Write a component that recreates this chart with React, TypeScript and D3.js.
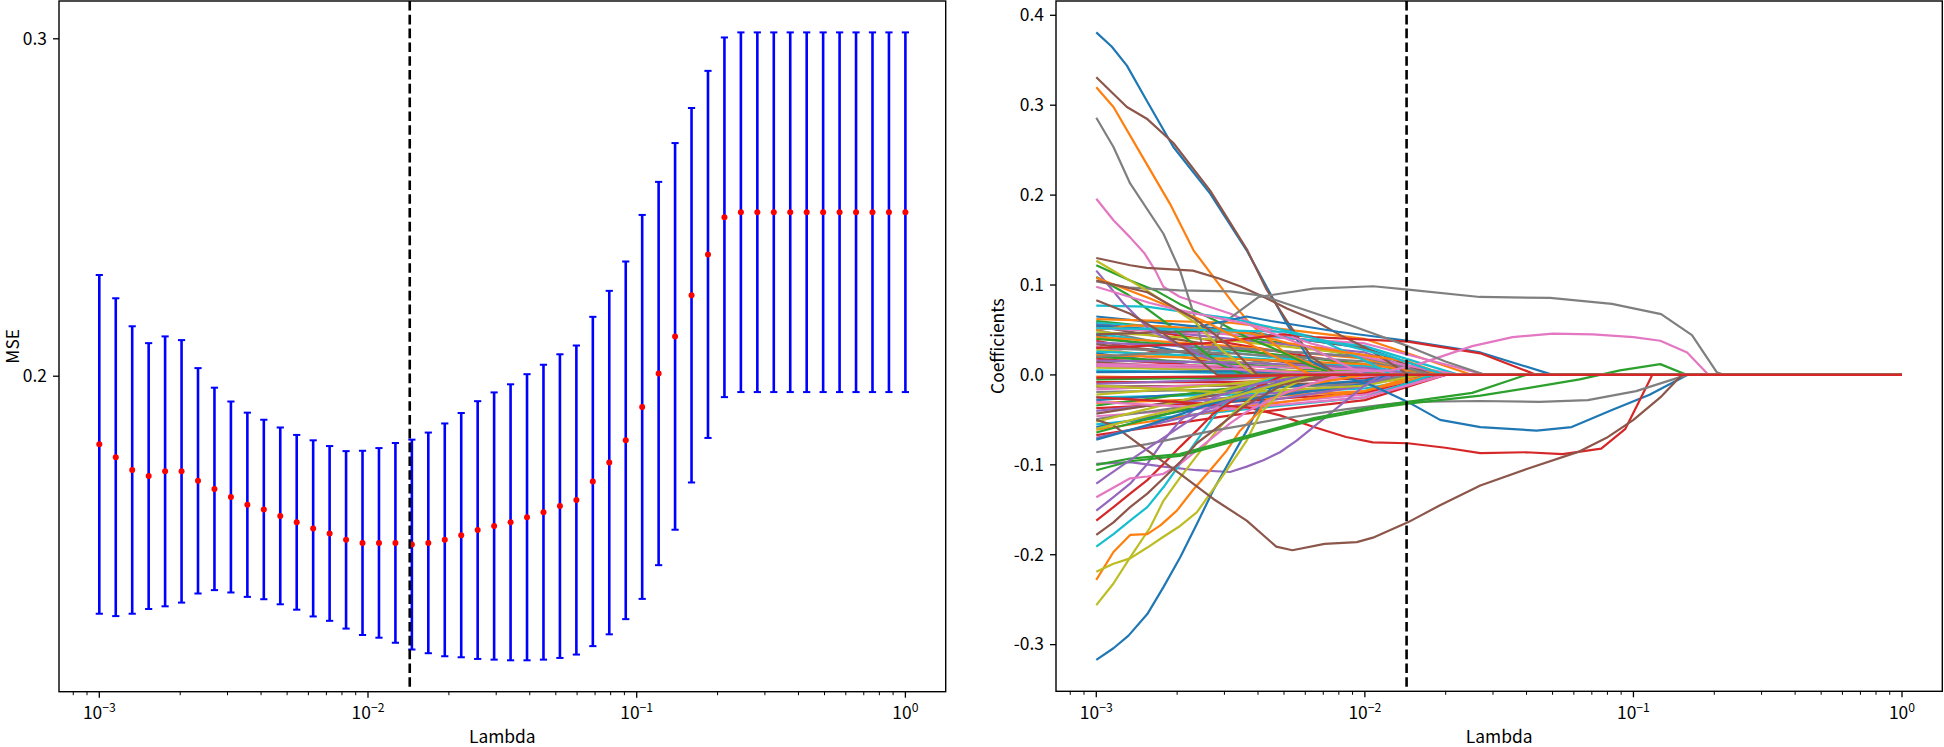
import React from "react";
import * as d3 from "d3";

const W = 1944;
const H = 747;
const FONT = "'Noto Sans CJK SC', 'Open Sans', sans-serif";

// ---------- data ----------
const lambdaExponents = d3.range(50).map((i) => -3 + (3 * i) / 49);
const lambdas = lambdaExponents.map((e) => 10 ** e);

const mseMean = [
  0.1798, 0.176, 0.1722, 0.1704, 0.1718, 0.1718, 0.169, 0.1666, 0.1642, 0.1619,
  0.1605, 0.1586, 0.1567, 0.1549, 0.1534, 0.1515, 0.1506, 0.1506, 0.1506, 0.1501,
  0.1506, 0.1515, 0.1529, 0.1544, 0.1556, 0.1567, 0.1582, 0.1597, 0.1615, 0.1633,
  0.1688, 0.1744, 0.181, 0.1909, 0.2008, 0.2118, 0.224, 0.2361, 0.2471, 0.2486,
  0.2486, 0.2486, 0.2486, 0.2486, 0.2486, 0.2486, 0.2486, 0.2486, 0.2486, 0.2486,
];
const mseStd = [
  0.0502, 0.0471, 0.0426, 0.0394, 0.04, 0.0389, 0.0334, 0.03, 0.0283, 0.0273,
  0.0266, 0.0262, 0.0259, 0.0261, 0.0259, 0.0263, 0.0273, 0.0281, 0.0296, 0.0311,
  0.0327, 0.0345, 0.0362, 0.0382, 0.0396, 0.0409, 0.0424, 0.0437, 0.045, 0.0458,
  0.0488, 0.0509, 0.053, 0.0569, 0.0568, 0.0573, 0.0555, 0.0544, 0.0533, 0.0533,
  0.0533, 0.0533, 0.0533, 0.0533, 0.0533, 0.0533, 0.0533, 0.0533, 0.0533, 0.0533,
];
const bestLambda = 0.0143;

const xTickExps = [-3, -2, -1, 0];
const mseTicks = [0.2, 0.3];
const coefTicks = [-0.3, -0.2, -0.1, 0, 0.1, 0.2, 0.3, 0.4];

// small coefficient paths: value at 1e-3, at 10^-2.5, at 10^-2, and log10(lambda) where they reach 0
const smallA = [0.065,0.062,0.060,0.058,0.056,0.054,0.052,0.050,0.048,0.046,0.044,0.042,0.040,0.038,0.036,0.034,0.032,0.030,0.028,0.026,0.024,0.022,0.020,0.018,0.016,0.014,0.012,0.010,0.008,0.005,0.003,-0.002,-0.005,-0.008,-0.010,-0.013,-0.016,-0.019,-0.022,-0.025,-0.028,-0.031,-0.034,-0.037,-0.040,-0.043,-0.046,-0.049,-0.052,-0.055,-0.058,-0.061,-0.064,-0.067,-0.070,0.045,-0.030,0.020,-0.012,0.058];
const smallB = [0.050,0.058,0.045,0.035,0.040,0.030,0.045,0.020,0.038,0.025,0.015,0.032,0.028,0.010,0.030,0.020,0.000,0.024,0.015,0.020,0.005,0.018,0.012,0.008,0.014,0.006,0.010,0.004,0.006,0.002,0.004,-0.004,-0.003,-0.008,-0.005,-0.012,-0.010,-0.016,-0.010,-0.022,-0.018,-0.026,-0.015,-0.030,-0.025,-0.020,-0.035,-0.028,-0.015,-0.040,-0.030,-0.038,-0.025,-0.045,-0.035,0.050,-0.038,0.030,-0.020,0.048];
const smallC = [0.030,0.040,0.020,0.010,0.025,0.005,0.035,0,0.022,0.008,0,0.018,0.012,0,0.020,0.006,0,0.015,0.004,0.010,0,0.012,0.003,0,0.008,0,0.006,0,0.003,0,0.002,-0.002,0,-0.004,0,-0.008,-0.002,-0.010,0,-0.015,-0.006,-0.018,0,-0.020,-0.010,0,-0.022,-0.012,0,-0.025,-0.010,-0.018,0,-0.028,-0.012,0.030,-0.025,0.020,-0.012,0.032];
const smallEnd = [-1.7,-1.6,-1.85,-1.9,-1.75,-1.95,-1.55,-2.1,-1.8,-1.9,-2.2,-1.8,-1.85,-2.3,-1.7,-1.9,-2.5,-1.75,-1.95,-1.8,-2.4,-1.7,-1.95,-2.2,-1.8,-2.3,-1.85,-2.2,-1.9,-2.3,-1.9,-1.9,-2.2,-1.85,-2.3,-1.8,-1.95,-1.75,-2.2,-1.7,-1.9,-1.75,-2.2,-1.7,-1.85,-2.1,-1.7,-1.85,-2.3,-1.75,-1.9,-1.8,-2.2,-1.7,-1.9,-1.75,-1.7,-1.75,-1.8,-1.65];

// prominent paths: [log10(lambda), coefficient]
type P = [number, number][];
const bluePaths: P[] = [
  [[-3,0.381],[-2.942,0.365],[-2.886,0.344],[-2.812,0.305],[-2.713,0.2535],[-2.576,0.2017],[-2.44,0.1386],[-2.291,0.057],[-2.204,0.016],[-2.1,0.0],[-1.97,-0.012],[-1.84,-0.03],[-1.72,-0.05],[-1.57,-0.058],[-1.36,-0.062],[-1.23,-0.058],[-1.08,-0.039],[-0.94,-0.022],[-0.8,0]],
  [[-3,-0.317],[-2.936,-0.304],[-2.88,-0.29],[-2.81,-0.266],[-2.75,-0.236],[-2.688,-0.203],[-2.626,-0.166],[-2.564,-0.128],[-2.502,-0.095],[-2.44,-0.062],[-2.378,-0.025],[-2.33,-0.008],[-2.2,0]],
  [[-3,0.055],[-2.75,0.05],[-2.6,0.055],[-2.44,0.065],[-2.35,0.06],[-2.1,0.048],[-1.84,0.038],[-1.57,0.025],[-1.3,0]],
  [[-3,-0.072],[-2.8,-0.055],[-2.6,-0.035],[-2.4,-0.015],[-2.2,0]],
];
const orangePaths: P[] = [
  [[-3,0.32],[-2.936,0.298],[-2.824,0.2406],[-2.725,0.19],[-2.638,0.1386],[-2.564,0.109],[-2.489,0.079],[-2.428,0.057],[-2.3,0.025],[-2.15,0.005],[-2.05,0]],
  [[-3,-0.228],[-2.936,-0.197],[-2.874,-0.178],[-2.81,-0.177],[-2.76,-0.167],[-2.7,-0.151],[-2.64,-0.128],[-2.576,-0.106],[-2.514,-0.084],[-2.465,-0.062],[-2.4,-0.043],[-2.366,-0.028],[-2.2,-0.01],[-2.0,0]],
  [[-3,0.05],[-2.87,0.055],[-2.75,0.054],[-2.56,0.05],[-2.42,0.046],[-2.28,0.035],[-2.07,0.025],[-1.84,0.015],[-1.7,0]],
  [[-3,0.108],[-2.8,0.085],[-2.6,0.06],[-2.4,0.03],[-2.2,0]],
];
const greenPaths: P[] = [
  [[-3,0.122],[-2.874,0.105],[-2.78,0.094],[-2.69,0.079],[-2.56,0.061],[-2.44,0.042],[-2.32,0.027],[-2.2,0.01],[-2.1,0]],
  [[-3,0.109],[-2.886,0.09],[-2.75,0.06],[-2.64,0.035],[-2.54,0.012],[-2.45,0]],
  [[-3,-0.106],[-2.874,-0.096],[-2.69,-0.09],[-2.44,-0.07],[-2.19,-0.05],[-1.94,-0.036],[-1.84,-0.032],[-1.57,-0.023],[-1.4,-0.015],[-1.2,-0.005],[-1.05,0.005],[-0.9,0.012],[-0.8,0]],
  [[-3,-0.1],[-2.874,-0.093],[-2.69,-0.088],[-2.44,-0.068],[-2.19,-0.048],[-1.94,-0.034],[-1.84,-0.03],[-1.6,-0.02],[-1.4,0]],
];
const redPaths: P[] = [
  [[-3,-0.025],[-2.7,-0.03],[-2.44,-0.036],[-2.316,-0.045],[-2.19,-0.058],[-2.07,-0.069],[-1.97,-0.075],[-1.84,-0.076],[-1.7,-0.081],[-1.57,-0.087],[-1.4,-0.086],[-1.264,-0.088],[-1.12,-0.082],[-1.03,-0.06],[-0.98,-0.03],[-0.93,0]],
  [[-3,-0.162],[-2.936,-0.147],[-2.874,-0.132],[-2.81,-0.117],[-2.75,-0.099],[-2.688,-0.08],[-2.626,-0.062],[-2.564,-0.043],[-2.45,-0.02],[-2.3,0]],
  [[-3,0.03],[-2.6,0.035],[-2.3,0.045],[-2.19,0.042],[-1.84,0.037],[-1.57,0.024],[-1.36,0]],
];
const purplePaths: P[] = [
  [[-3,-0.099],[-2.874,-0.097],[-2.75,-0.102],[-2.626,-0.106],[-2.502,-0.108],[-2.44,-0.102],[-2.378,-0.095],[-2.316,-0.086],[-2.254,-0.073],[-2.192,-0.058],[-2.13,-0.043],[-2.068,-0.028],[-2.006,-0.013],[-1.94,0]],
  [[-3,-0.151],[-2.936,-0.136],[-2.874,-0.121],[-2.81,-0.099],[-2.75,-0.073],[-2.688,-0.051],[-2.626,-0.036],[-2.564,-0.025],[-2.4,-0.01],[-2.2,0]],
  [[-3,0.116],[-2.9,0.08],[-2.8,0.05],[-2.6,0.02],[-2.4,0]],
  [[-3,-0.121],[-2.9,-0.1],[-2.75,-0.07],[-2.6,-0.04],[-2.4,-0.015],[-2.2,0]],
];
const brownPaths: P[] = [
  [[-3,0.331],[-2.886,0.298],[-2.812,0.285],[-2.713,0.258],[-2.576,0.205],[-2.44,0.14],[-2.366,0.095],[-2.29,0.06],[-2.2,0.02],[-2.1,0]],
  [[-3,0.13],[-2.874,0.122],[-2.812,0.119],[-2.64,0.116],[-2.54,0.107],[-2.46,0.098],[-2.378,0.087],[-2.29,0.074],[-2.19,0.061],[-2.09,0.044],[-1.99,0.029],[-1.92,0.016],[-1.845,0.0015],[-1.8,0]],
  [[-3,-0.05],[-2.936,-0.056],[-2.81,-0.084],[-2.688,-0.11],[-2.564,-0.138],[-2.44,-0.162],[-2.33,-0.191],[-2.27,-0.195],[-2.15,-0.188],[-2.03,-0.186],[-1.97,-0.181],[-1.84,-0.164],[-1.72,-0.145],[-1.57,-0.123],[-1.4,-0.105],[-1.2,-0.085],[-1.1,-0.07],[-1.0,-0.05],[-0.9,-0.025],[-0.82,0]],
  [[-3,-0.178],[-2.936,-0.164],[-2.874,-0.147],[-2.81,-0.132],[-2.75,-0.115],[-2.688,-0.097],[-2.626,-0.076],[-2.564,-0.062],[-2.45,-0.035],[-2.3,-0.01],[-2.15,0]],
  [[-3,0.105],[-2.81,0.092],[-2.626,0.061],[-2.5,0.031],[-2.4,0]],
  [[-3,0.083],[-2.874,0.068],[-2.75,0.046],[-2.66,0.027],[-2.55,0]],
];
const pinkPaths: P[] = [
  [[-3,0.196],[-2.936,0.172],[-2.874,0.153],[-2.82,0.135],[-2.78,0.116],[-2.75,0.098],[-2.69,0.087],[-2.59,0.077],[-2.5,0.068],[-2.4,0.055],[-2.2,0.035],[-2.0,0.02],[-1.8,0.008],[-1.65,0]],
  [[-3,-0.136],[-2.874,-0.115],[-2.81,-0.113],[-2.75,-0.11],[-2.688,-0.099],[-2.626,-0.084],[-2.564,-0.069],[-2.502,-0.054],[-2.44,-0.041],[-2.3,-0.02],[-2.1,0]],
  [[-3,0.01],[-2.6,0.008],[-2.2,0.002],[-1.9,0.005],[-1.8,0.012],[-1.7,0.022],[-1.6,0.032],[-1.45,0.042],[-1.3,0.046],[-1.15,0.045],[-1.0,0.042],[-0.9,0.038],[-0.8,0.025],[-0.72,0]],
  [[-3,0.098],[-2.8,0.08],[-2.69,0.072],[-2.56,0.064],[-2.44,0.057],[-2.2,0.03],[-2.0,0]],
];
const grayPaths: P[] = [
  [[-3,0.286],[-2.936,0.2535],[-2.874,0.213],[-2.75,0.157],[-2.688,0.116],[-2.626,0.057],[-2.595,0.02],[-2.56,0.035],[-2.53,0.057],[-2.395,0.0867],[-2.192,0.096],[-1.969,0.0986],[-1.839,0.0948],[-1.572,0.0867],[-1.31,0.0856],[-1.08,0.079],[-0.897,0.0677],[-0.782,0.0443],[-0.69,0.003],[-0.66,0]],
  [[-3,-0.086],[-2.81,-0.077],[-2.564,-0.062],[-2.316,-0.049],[-2.068,-0.038],[-1.839,-0.03],[-1.572,-0.029],[-1.35,-0.03],[-1.17,-0.028],[-0.99,-0.018],[-0.8,0]],
  [[-3,0.104],[-2.874,0.097],[-2.69,0.094],[-2.5,0.093],[-2.378,0.088],[-2.25,0.075],[-2.07,0.057],[-1.94,0.043],[-1.84,0.032],[-1.7,0.015],[-1.55,0]],
];
const olivePaths: P[] = [
  [[-3,-0.256],[-2.936,-0.232],[-2.874,-0.203],[-2.8,-0.17],[-2.75,-0.14],[-2.69,-0.115],[-2.626,-0.09],[-2.56,-0.065],[-2.5,-0.045],[-2.4,-0.02],[-2.3,0]],
  [[-3,-0.219],[-2.936,-0.21],[-2.874,-0.204],[-2.81,-0.192],[-2.75,-0.18],[-2.688,-0.168],[-2.626,-0.153],[-2.514,-0.106],[-2.44,-0.073],[-2.39,-0.043],[-2.3,-0.015],[-2.2,0]],
  [[-3,0.127],[-2.812,0.094],[-2.626,0.057],[-2.53,0.027],[-2.415,0.001],[-2.4,0]],
  [[-3,-0.06],[-2.8,-0.045],[-2.5,-0.025],[-2.2,0]],
];
const cyanPaths: P[] = [
  [[-3,-0.191],[-2.936,-0.177],[-2.874,-0.162],[-2.81,-0.147],[-2.75,-0.125],[-2.688,-0.099],[-2.626,-0.073],[-2.564,-0.047],[-2.53,-0.034],[-2.4,-0.01],[-2.3,0]],
  [[-3,0.077],[-2.812,0.076],[-2.626,0.068],[-2.5,0.063],[-2.378,0.055],[-2.19,0.042],[-2.0,0.016],[-1.9,0]],
  [[-3,0.052],[-2.6,0.05],[-2.3,0.048],[-2.1,0.035],[-1.9,0.02],[-1.7,0]],
];
const finalRedPath: P = [[-3,-0.003],[-2.6,-0.002],[-2.2,0]];

// ---------- layout ----------
const LA = { x0: 59, x1: 945.7, y0: 1, y1: 691.7 };
const RA = { x0: 1056, x1: 1942.3, y0: 1, y1: 691.3 };
const FS = 17.4;
const SUP = 12.2;
const TICK = 6;
const MINOR = 3.5;
const palette = d3.schemeCategory10;

const logPad = 0.05 * (lambdaExponents[49] - lambdaExponents[0]);
const xDomain: [number, number] = [10 ** (lambdaExponents[0] - logPad), 10 ** (lambdaExponents[49] + logPad)];

function padded(lo: number, hi: number): [number, number] {
  const p = 0.05 * (hi - lo);
  return [lo - p, hi + p];
}

const minorTicks: number[] = [];
for (let k = -4; k <= 0; k++) for (let m = 2; m <= 9; m++) {
  const v = m * 10 ** k;
  if (v > xDomain[0] && v < xDomain[1]) minorTicks.push(v);
}

function XAxis({ x, y }: { x: d3.ScaleLogarithmic<number, number>; y: number }) {
  return (
    <g>
      {minorTicks.map((v, i) => (
        <line key={"m" + i} x1={x(v)} x2={x(v)} y1={y} y2={y + MINOR} stroke="#000" strokeWidth={1} />
      ))}
      {xTickExps.map((e) => (
        <g key={e}>
          <line x1={x(10 ** e)} x2={x(10 ** e)} y1={y} y2={y + TICK} stroke="#000" strokeWidth={1.3} />
          <text x={x(10 ** e)} y={719} textAnchor="middle" fontSize={FS} fontFamily={FONT} fill="#000">
            10<tspan fontSize={SUP} dy={-7}>{e < 0 ? "\u2212" + Math.abs(e) : String(e)}</tspan>
          </text>
        </g>
      ))}
    </g>
  );
}

function YAxis({ y, x, ticks }: { y: d3.ScaleLinear<number, number>; x: number; ticks: number[] }) {
  return (
    <g>
      {ticks.map((t) => (
        <g key={t}>
          <line x1={x - TICK} x2={x} y1={y(t)} y2={y(t)} stroke="#000" strokeWidth={1.3} />
          <text x={x - 12} y={y(t) + 5.8} textAnchor="end" fontSize={FS} fontFamily={FONT} fill="#000">
            {t.toFixed(1)}
          </text>
        </g>
      ))}
    </g>
  );
}

export default function App() {
  // left panel
  const xL = d3.scaleLog().domain(xDomain).range([LA.x0, LA.x1]);
  const lo = d3.min(mseMean.map((m, i) => m - mseStd[i])) as number;
  const hi = d3.max(mseMean.map((m, i) => m + mseStd[i])) as number;
  const yL = d3.scaleLinear().domain(padded(lo, hi)).range([LA.y1, LA.y0]);

  // right panel
  const smallPaths: P[] = smallA.map((a, i) => {
    const e = smallEnd[i];
    const pts: P = [[-3, a]];
    if (e > -2.5) pts.push([-2.5, smallB[i]]);
    if (e > -2.0) pts.push([-2.0, smallC[i]]);
    pts.push([e, 0]);
    return pts;
  });
  const groups = [bluePaths, orangePaths, greenPaths, redPaths, purplePaths, brownPaths, pinkPaths, grayPaths, olivePaths, cyanPaths];
  const drawList: { pts: P; color: string }[] = [];
  smallPaths.forEach((p, i) => drawList.push({ pts: p, color: palette[i % 10] }));
  const maxLen = d3.max(groups, (g) => g.length) as number;
  for (let r = 0; r < maxLen; r++) {
    groups.forEach((g, c) => {
      if (g[r]) drawList.push({ pts: g[r], color: palette[c] });
    });
  }
  drawList.push({ pts: finalRedPath, color: palette[3] });
  drawList.forEach((d) => {
    const last = d.pts[d.pts.length - 1];
    if (last[0] < 0) d.pts = [...d.pts, [0, 0]];
  });

  const allVals = drawList.flatMap((d) => d.pts.map((p) => p[1]));
  const xR = d3.scaleLog().domain(xDomain).range([RA.x0, RA.x1]);
  const yR = d3.scaleLinear().domain(padded(d3.min(allVals) as number, d3.max(allVals) as number)).range([RA.y1, RA.y0]);
  const line = d3.line<[number, number]>().x((d) => xR(10 ** d[0])).y((d) => yR(d[1]));

  const cap = 3.6;

  return (
    <div style={{ position: "absolute", left: 0, top: 0, background: "#fff" }}>
      <svg width={W} height={H} style={{ display: "block", background: "#fff" }}>
        <rect width={W} height={H} fill="#fff" />
        {/* ---------- left: CV MSE ---------- */}
        <g>
          {lambdas.map((l, i) => (
            <g key={i}>
              <line x1={xL(l)} x2={xL(l)} y1={yL(mseMean[i] - mseStd[i])} y2={yL(mseMean[i] + mseStd[i])} stroke="#0000ff" strokeWidth={2.6} />
              <line x1={xL(l) - cap} x2={xL(l) + cap} y1={yL(mseMean[i] + mseStd[i])} y2={yL(mseMean[i] + mseStd[i])} stroke="#0000ff" strokeWidth={2} />
              <line x1={xL(l) - cap} x2={xL(l) + cap} y1={yL(mseMean[i] - mseStd[i])} y2={yL(mseMean[i] - mseStd[i])} stroke="#0000ff" strokeWidth={2} />
            </g>
          ))}
          {lambdas.map((l, i) => (
            <circle key={"d" + i} cx={xL(l)} cy={yL(mseMean[i])} r={3} fill="#ff0000" />
          ))}
          <line x1={xL(bestLambda)} x2={xL(bestLambda)} y1={LA.y0} y2={LA.y1} stroke="#000" strokeWidth={2.6} strokeDasharray="9.6 4.2" />
          <rect x={LA.x0} y={LA.y0} width={LA.x1 - LA.x0} height={LA.y1 - LA.y0} fill="none" stroke="#000" strokeWidth={1.4} />
          <XAxis x={xL} y={LA.y1} />
          <YAxis y={yL} x={LA.x0} ticks={mseTicks} />
          <text x={(LA.x0 + LA.x1) / 2} y={743} textAnchor="middle" fontSize={FS} fontFamily={FONT}>Lambda</text>
          <text transform={`translate(19,${(LA.y0 + LA.y1) / 2}) rotate(-90)`} textAnchor="middle" fontSize={FS} fontFamily={FONT}>MSE</text>
        </g>
        {/* ---------- right: coefficient paths ---------- */}
        <g>
          <defs>
            <clipPath id="clipR">
              <rect x={RA.x0} y={RA.y0} width={RA.x1 - RA.x0} height={RA.y1 - RA.y0} />
            </clipPath>
          </defs>
          <g clipPath="url(#clipR)">
            {drawList.map((d, i) => (
              <path key={i} d={line(d.pts) || ""} fill="none" stroke={d.color} strokeWidth={2.2} strokeLinejoin="round" />
            ))}
          </g>
          <line x1={xR(bestLambda)} x2={xR(bestLambda)} y1={RA.y0} y2={RA.y1} stroke="#000" strokeWidth={2.6} strokeDasharray="9.6 4.2" />
          <rect x={RA.x0} y={RA.y0} width={RA.x1 - RA.x0} height={RA.y1 - RA.y0} fill="none" stroke="#000" strokeWidth={1.4} />
          <XAxis x={xR} y={RA.y1} />
          <YAxis y={yR} x={RA.x0} ticks={coefTicks} />
          <text x={(RA.x0 + RA.x1) / 2} y={743} textAnchor="middle" fontSize={FS} fontFamily={FONT}>Lambda</text>
          <text transform={`translate(1004,${(RA.y0 + RA.y1) / 2}) rotate(-90)`} textAnchor="middle" fontSize={FS} fontFamily={FONT}>Coefficients</text>
        </g>
      </svg>
    </div>
  );
}
